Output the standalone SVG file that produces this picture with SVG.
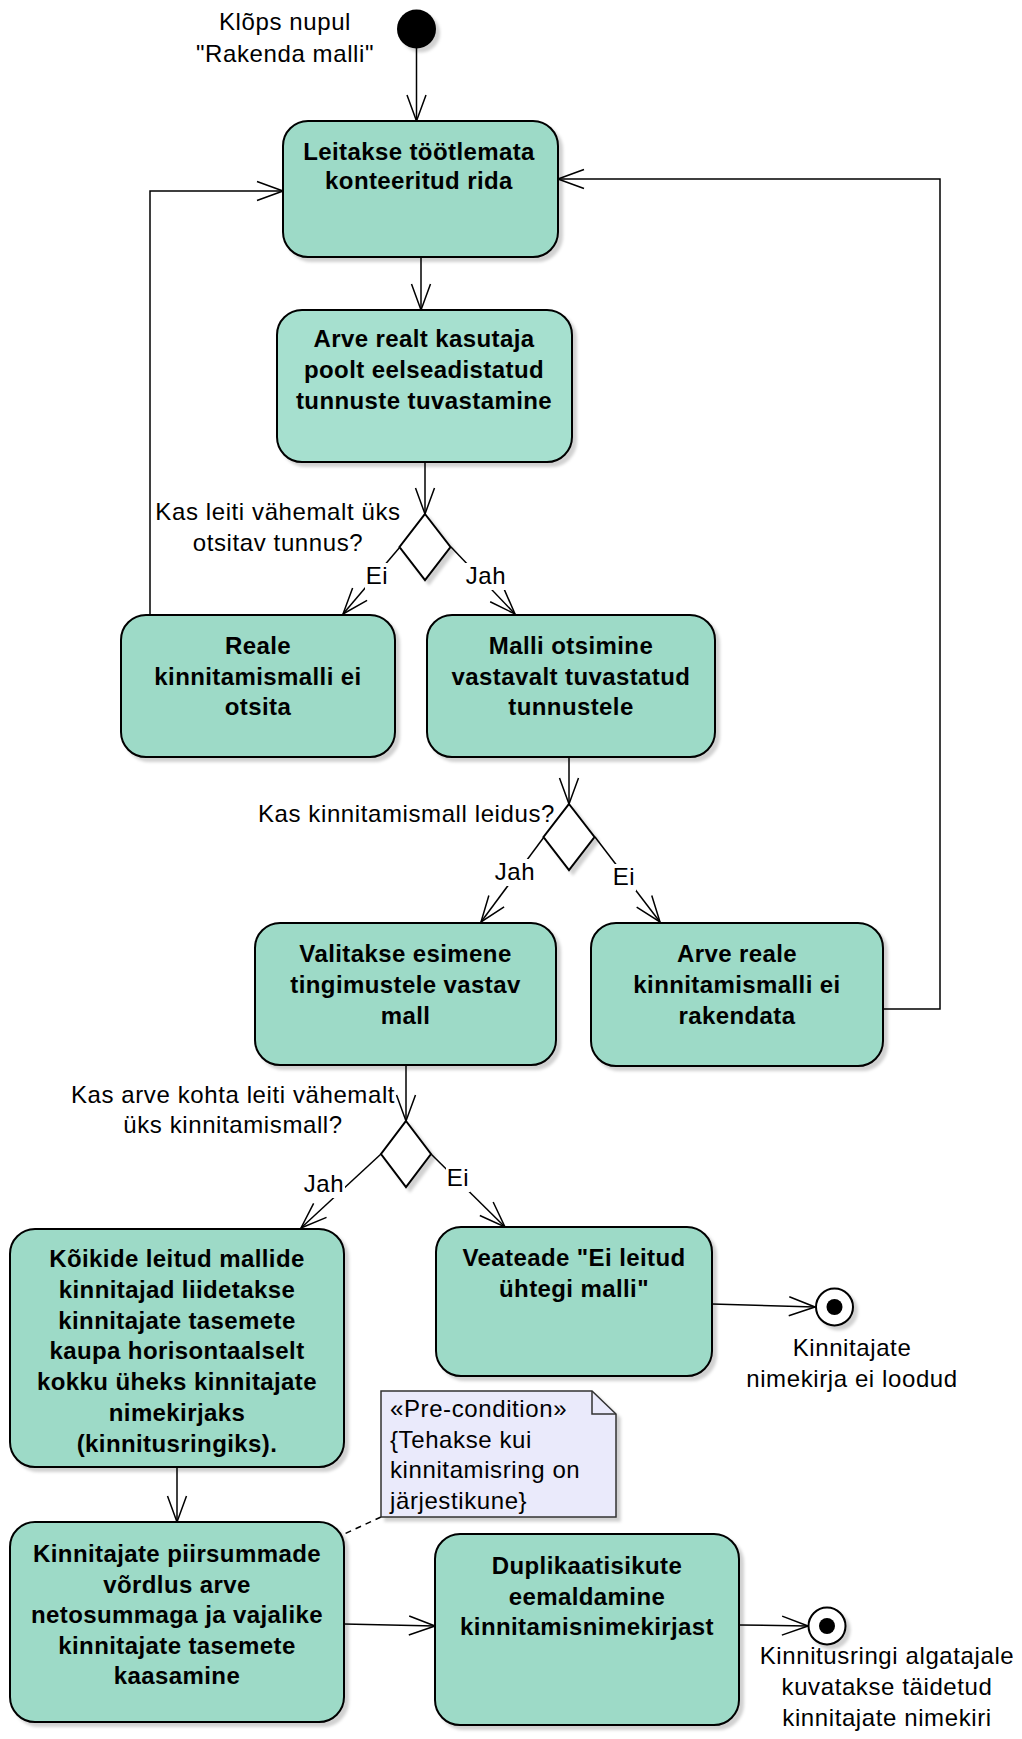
<svg xmlns="http://www.w3.org/2000/svg" width="1022" height="1739" viewBox="0 0 1022 1739">
  <defs>
    <style>
      .act { fill: #9DDAC7; stroke: #000; stroke-width: 2; }
      .act.light { fill: #A6E0CF; }
      .bold { font-family: "Liberation Sans", Arial, sans-serif; font-size: 24px; font-weight: bold; letter-spacing: 0.4px; text-anchor: middle; fill: #000; }
      .lbl { font-family: "Liberation Sans", Arial, sans-serif; font-size: 24px; letter-spacing: 0.6px; fill: #000; }
      .mid { text-anchor: middle; }
      .end { text-anchor: end; }
      .flow { fill: none; stroke: #000; stroke-width: 1.5; marker-end: url(#open); }
      .loop { fill: none; stroke: #000; stroke-width: 1.5; }
      .dec { fill: #fff; stroke: #000; stroke-width: 2; }
      .note { fill: #EAEAFB; stroke: #333; stroke-width: 1.5; }
      .guard-bg { fill: #fff; }
    </style>
    <marker id="open" viewBox="0 0 28 22" refX="27" refY="11" markerWidth="28" markerHeight="22" markerUnits="userSpaceOnUse" orient="auto">
      <path d="M1,1.5 L27,11 L1,20.5" fill="none" stroke="#000" stroke-width="1.5"/>
    </marker>
    <filter id="shadow" x="-10%" y="-10%" width="130%" height="130%">
      <feDropShadow dx="4" dy="4" stdDeviation="1.5" flood-color="#000" flood-opacity="0.18"/>
    </filter>
  </defs>

  <rect width="1022" height="1739" fill="#fff"/>

  <!-- connectors, with guard labels masking the line underneath -->
  <g id="connectors">
    <path class="flow" d="M416.5,48 V121"/>
    <path class="flow" d="M421,257 V310"/>
    <path class="flow" d="M425,462 V514"/>
    <path class="flow" d="M400,547 L343,614"/>
    <path class="flow" d="M451,547 L515,614"/>
    <path class="flow" d="M150,615 V191 H283"/>
    <path class="flow" d="M569,757 V804"/>
    <path class="flow" d="M544,837 L481,922"/>
    <path class="flow" d="M595,837 L660,922"/>
    <path class="flow" d="M883,1009 H940 V179 H558"/>
    <path class="flow" d="M406,1065 V1121"/>
    <path class="flow" d="M381,1154 L301,1228"/>
    <path class="flow" d="M431,1154 L505,1227"/>
    <path class="flow" d="M712,1304 L815,1307"/>
    <path class="flow" d="M177,1467 V1522"/>
    <path class="flow" d="M344,1624 L435,1626"/>
    <path class="flow" d="M739,1625 L808,1626"/>
    <path class="loop" d="M381,1517 L342,1535" stroke-dasharray="6,5"/>

    <rect class="guard-bg" x="365" y="563" width="24" height="27"/>
    <text class="lbl mid" x="377" y="584">Ei</text>
    <rect class="guard-bg" x="465" y="563" width="42" height="27"/>
    <text class="lbl mid" x="486" y="584">Jah</text>
    <rect class="guard-bg" x="494" y="859" width="42" height="27"/>
    <text class="lbl mid" x="515" y="880">Jah</text>
    <rect class="guard-bg" x="612" y="864" width="24" height="27"/>
    <text class="lbl mid" x="624" y="885">Ei</text>
    <rect class="guard-bg" x="303" y="1171" width="42" height="27"/>
    <text class="lbl mid" x="324" y="1192">Jah</text>
    <rect class="guard-bg" x="446" y="1165" width="24" height="27"/>
    <text class="lbl mid" x="458" y="1186">Ei</text>
  </g>

  <!-- start -->
  <g id="start">
    <circle cx="416.5" cy="29" r="19.5" fill="#000" filter="url(#shadow)"/>
    <text class="lbl mid" x="285" y="30">Klõps nupul</text>
    <text class="lbl mid" x="285" y="62">"Rakenda malli"</text>
  </g>

  <g id="find-row">
    <rect class="act" x="283" y="121" width="275" height="136" rx="25" filter="url(#shadow)"/>
    <text class="bold" x="419" y="160">Leitakse töötlemata</text>
    <text class="bold" x="419" y="189">konteeritud rida</text>
  </g>

  <g id="detect-features">
    <rect class="act light" x="277" y="310" width="295" height="152" rx="25" filter="url(#shadow)"/>
    <text class="bold" x="424" y="347">Arve realt kasutaja</text>
    <text class="bold" x="424" y="378">poolt eelseadistatud</text>
    <text class="bold" x="424" y="409">tunnuste tuvastamine</text>
  </g>

  <g id="decision-features">
    <path class="dec" d="M425,514 L450.5,547 L425,580 L399.5,547 Z" filter="url(#shadow)"/>
    <text class="lbl mid" x="278" y="520">Kas leiti vähemalt üks</text>
    <text class="lbl mid" x="278" y="551">otsitav tunnus?</text>
  </g>

  <g id="no-search">
    <rect class="act" x="121" y="615" width="274" height="142" rx="25" filter="url(#shadow)"/>
    <text class="bold" x="258" y="654">Reale</text>
    <text class="bold" x="258" y="684.5">kinnitamismalli ei</text>
    <text class="bold" x="258" y="715">otsita</text>
  </g>

  <g id="search-template">
    <rect class="act" x="427" y="615" width="288" height="142" rx="25" filter="url(#shadow)"/>
    <text class="bold" x="571" y="654">Malli otsimine</text>
    <text class="bold" x="571" y="684.5">vastavalt tuvastatud</text>
    <text class="bold" x="571" y="715">tunnustele</text>
  </g>

  <g id="decision-template">
    <path class="dec" d="M569,804 L594.5,837 L569,870 L543.5,837 Z" filter="url(#shadow)"/>
    <text class="lbl end" x="555" y="822">Kas kinnitamismall leidus?</text>
  </g>

  <g id="select-template">
    <rect class="act" x="255" y="923" width="301" height="142" rx="25" filter="url(#shadow)"/>
    <text class="bold" x="405.5" y="962">Valitakse esimene</text>
    <text class="bold" x="405.5" y="993">tingimustele vastav</text>
    <text class="bold" x="405.5" y="1023.5">mall</text>
  </g>

  <g id="no-apply">
    <rect class="act" x="591" y="923" width="292" height="143" rx="25" filter="url(#shadow)"/>
    <text class="bold" x="737" y="962">Arve reale</text>
    <text class="bold" x="737" y="993">kinnitamismalli ei</text>
    <text class="bold" x="737" y="1023.5">rakendata</text>
  </g>

  <g id="decision-invoice">
    <path class="dec" d="M406,1121 L431,1154 L406,1187 L381,1154 Z" filter="url(#shadow)"/>
    <text class="lbl mid" x="233" y="1103">Kas arve kohta leiti vähemalt</text>
    <text class="lbl mid" x="233" y="1133">üks kinnitamismall?</text>
  </g>

  <g id="merge-approvers">
    <rect class="act" x="10" y="1229" width="334" height="238" rx="25" filter="url(#shadow)"/>
    <text class="bold" x="177" y="1267">Kõikide leitud mallide</text>
    <text class="bold" x="177" y="1297.5">kinnitajad liidetakse</text>
    <text class="bold" x="177" y="1328.5">kinnitajate tasemete</text>
    <text class="bold" x="177" y="1359">kaupa horisontaalselt</text>
    <text class="bold" x="177" y="1390">kokku üheks kinnitajate</text>
    <text class="bold" x="177" y="1420.5">nimekirjaks</text>
    <text class="bold" x="177" y="1451.5">(kinnitusringiks).</text>
  </g>

  <g id="error-message">
    <rect class="act" x="436" y="1227" width="276" height="149" rx="25" filter="url(#shadow)"/>
    <text class="bold" x="574" y="1266">Veateade "Ei leitud</text>
    <text class="bold" x="574" y="1297">ühtegi malli"</text>
  </g>

  <g id="end-no-list">
    <circle cx="834.5" cy="1307" r="18.5" fill="#fff" stroke="#000" stroke-width="2" filter="url(#shadow)"/>
    <circle cx="834.5" cy="1307" r="8" fill="#000"/>
    <text class="lbl mid" x="852" y="1356">Kinnitajate</text>
    <text class="lbl mid" x="852" y="1387">nimekirja ei loodud</text>
  </g>

  <g id="precondition-note">
    <path class="note" d="M381,1391 H592 L616,1414 V1517 H381 Z" filter="url(#shadow)"/>
    <path d="M592,1391 V1414 H616" fill="none" stroke="#333" stroke-width="1.5"/>
    <text class="lbl" x="390" y="1417">«Pre-condition»</text>
    <text class="lbl" x="390" y="1447.5">{Tehakse kui</text>
    <text class="lbl" x="390" y="1478">kinnitamisring on</text>
    <text class="lbl" x="390" y="1509">järjestikune}</text>
  </g>

  <g id="compare-limits">
    <rect class="act" x="10" y="1522" width="334" height="200" rx="25" filter="url(#shadow)"/>
    <text class="bold" x="177" y="1562">Kinnitajate piirsummade</text>
    <text class="bold" x="177" y="1592.5">võrdlus arve</text>
    <text class="bold" x="177" y="1623">netosummaga ja vajalike</text>
    <text class="bold" x="177" y="1653.5">kinnitajate tasemete</text>
    <text class="bold" x="177" y="1684">kaasamine</text>
  </g>

  <g id="remove-duplicates">
    <rect class="act" x="435" y="1534" width="304" height="191" rx="25" filter="url(#shadow)"/>
    <text class="bold" x="587" y="1574">Duplikaatisikute</text>
    <text class="bold" x="587" y="1604.5">eemaldamine</text>
    <text class="bold" x="587" y="1635">kinnitamisnimekirjast</text>
  </g>

  <g id="end-list-shown">
    <circle cx="827" cy="1626" r="18.5" fill="#fff" stroke="#000" stroke-width="2" filter="url(#shadow)"/>
    <circle cx="827" cy="1626" r="8" fill="#000"/>
    <text class="lbl mid" x="887" y="1664">Kinnitusringi algatajale</text>
    <text class="lbl mid" x="887" y="1695">kuvatakse täidetud</text>
    <text class="lbl mid" x="887" y="1726">kinnitajate nimekiri</text>
  </g>
</svg>
